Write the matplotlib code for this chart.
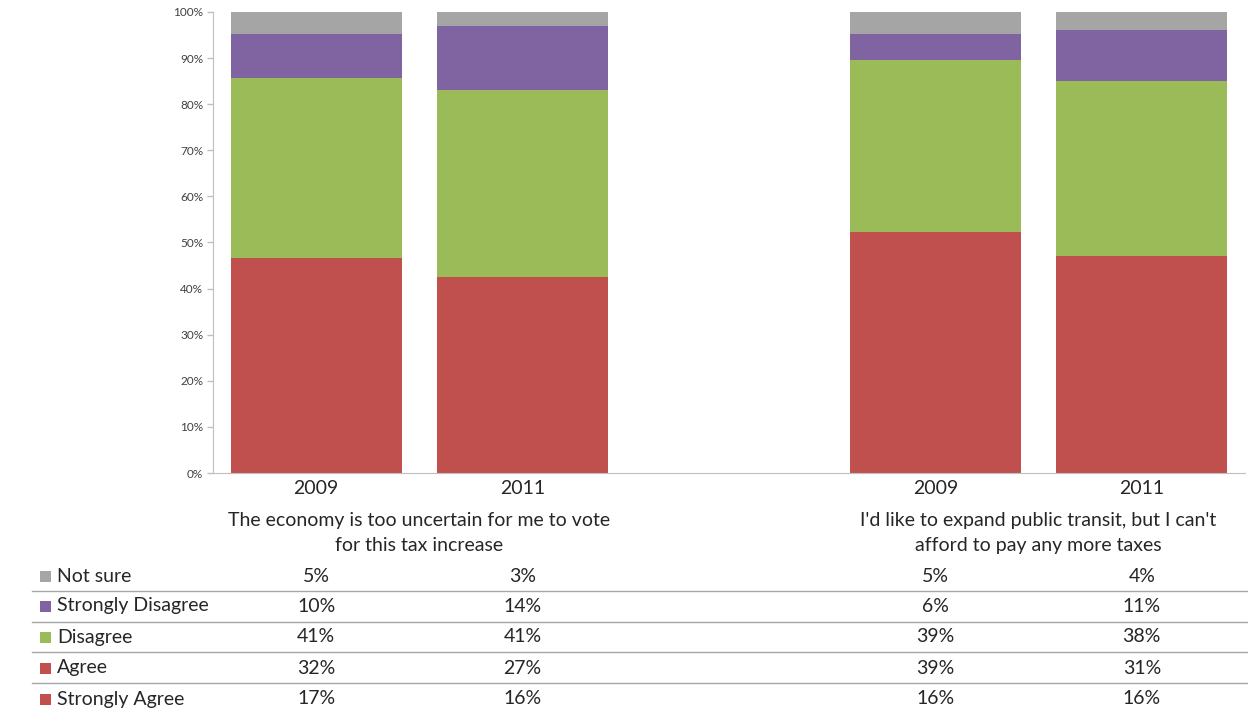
import matplotlib
matplotlib.use("Agg")
import matplotlib.pyplot as plt
from matplotlib.transforms import blended_transform_factory
from matplotlib.lines import Line2D
from matplotlib.patches import Rectangle

plt.rcParams['font.family'] = ['Lato', 'DejaVu Sans']

# Survey responses (percent), bottom-to-top stacking order
categories = ["Strongly Agree", "Agree", "Disagree", "Strongly Disagree", "Not sure"]
colors = ["#C0504D", "#C0504D", "#9BBB59", "#8064A2", "#A5A5A5"]
years = ["2009", "2011", "2009", "2011"]
questions = ["The economy is too uncertain for me to vote\nfor this tax increase",
             "I'd like to expand public transit, but I can't\nafford to pay any more taxes"]
strongly_agree = [17, 16, 16, 16]
agree = [32, 27, 39, 31]
disagree = [41, 41, 39, 38]
strongly_disagree = [10, 14, 6, 11]
not_sure = [5, 3, 5, 4]
series = [strongly_agree, agree, disagree, strongly_disagree, not_sure]

positions = [0, 1, 3, 4]
totals = [sum(s[i] for s in series) for i in range(len(positions))]

W, H = 1248, 723
TEXT = '#262626'
fig = plt.figure(figsize=(W / 100, H / 100), dpi=100)
ax = fig.add_axes([213 / W, 1 - 473 / H, (1245 - 213) / W, (473 - 12) / H])

bottoms = [0.0] * len(positions)
for vals, col in zip(series, colors):
    heights = [v / t * 100 for v, t in zip(vals, totals)]
    ax.bar(positions, heights, bottom=bottoms, width=0.83, color=col,
           edgecolor='none', linewidth=0)
    bottoms = [b + h for b, h in zip(bottoms, heights)]

ax.set_xlim(-0.5, 4.5)
ax.set_ylim(0, 100)
ax.set_yticks(range(0, 101, 10))
ax.set_yticklabels([f"{v}%" for v in range(0, 101, 10)], fontsize=8.5, color='#404040')
ax.tick_params(axis='y', length=4, color='#BFBFBF', width=1, pad=3)
ax.set_xticks([])
for side in ['top', 'right']:
    ax.spines[side].set_visible(False)
ax.spines['left'].set_color('#BFBFBF')
ax.spines['bottom'].set_color('#BFBFBF')

tr = blended_transform_factory(ax.transData, fig.transFigure)

# Year labels and question labels under the bars
for p, y in zip(positions, years):
    fig.text(p, 1 - 489 / H, y, transform=tr, ha='center', va='center',
             fontsize=14, color=TEXT)
for cx, q in zip([0.5, 3.5], questions):
    fig.text(cx, 1 - 533 / H, q, transform=tr, ha='center', va='center',
             fontsize=14, color=TEXT, linespacing=1.62)

# Data table with legend keys
row_y = [576, 606, 637, 668, 699]
table_rows = list(zip(categories, colors, series))[::-1]
for (name, col, vals), ry in zip(table_rows, row_y):
    yf = 1 - ry / H
    fig.patches.append(Rectangle((40 / W, yf - 5.5 / H), 11 / W, 11 / H,
                                 transform=fig.transFigure, facecolor=col,
                                 edgecolor='none'))
    fig.text(57 / W, yf, name, ha='left', va='center', fontsize=14, color=TEXT)
    for p, v in zip(positions, vals):
        fig.text(p, yf, f"{v}%", transform=tr, ha='center', va='center',
                 fontsize=14, color=TEXT)

for ly in [591, 622, 652, 683]:
    fig.lines.append(Line2D([32 / W, 1.0], [1 - ly / H, 1 - ly / H],
                            transform=fig.transFigure, color='#A6A6A6', lw=1))

fig.savefig("out.png", dpi=100)
